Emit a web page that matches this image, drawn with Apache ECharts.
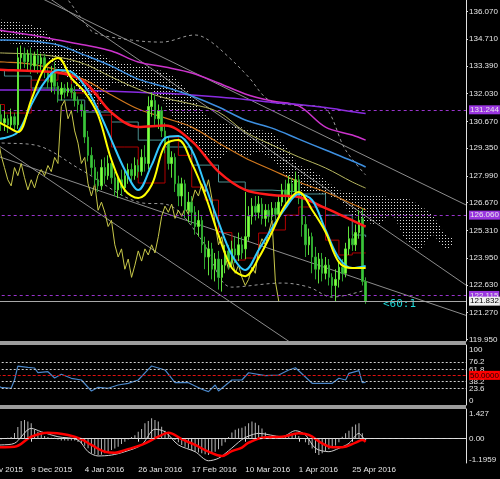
<!DOCTYPE html>
<html>
<head>
<meta charset="utf-8">
<script src="https://cdn.jsdelivr.net/npm/echarts@6/dist/echarts.min.js"></script>
<style>
  html, body { margin: 0; padding: 0; background: #000; }
  #chart { width: 500px; height: 479px; }
</style>
</head>
<body>
<div id="chart"></div>
<script>
// categories: trading days from 17 Nov 2015, weekends and 25 Dec / 1 Jan skipped
const holidays = ['2015-12-25', '2016-01-01'];
const monthNames = ['Jan', 'Feb', 'Mar', 'Apr', 'May', 'Jun', 'Jul', 'Aug', 'Sep', 'Oct', 'Nov', 'Dec'];
const dates = [];
const day = new Date(Date.UTC(2015, 10, 17));
while (dates.length < 147) {
  const wd = day.getUTCDay();
  if (wd !== 0 && wd !== 6 && !holidays.includes(day.toISOString().slice(0, 10))) {
    dates.push(day.getUTCDate() + ' ' + monthNames[day.getUTCMonth()] + ' ' + day.getUTCFullYear());
  }
  day.setUTCDate(day.getUTCDate() + 1);
}
const lastBar = 116;

// daily candles [open, close, low, high]
const ohlc = [
  [131.2,131.6,130.9,131.8],[131.6,131.4,131.1,131.9],[131.4,131.5,131.0,131.8],[131.5,131.2,130.9,131.7],
  [131.2,130.8,130.6,131.4],[130.8,130.6,130.3,131.0],[130.6,130.9,130.4,131.1],[131.0,130.6,130.2,131.5],
  [130.6,130.8,130.2,131.2],[130.8,130.5,130.1,131.0],[130.5,130.9,130.3,131.3],[130.9,130.5,130.2,131.1],
  [130.5,133.8,130.3,134.3],[133.8,134.0,133.2,134.4],[134.0,133.6,133.3,134.3],[133.6,134.0,133.2,134.2],
  [134.0,133.4,133.0,134.3],[133.4,133.9,133.1,134.1],[133.9,133.5,133.0,134.2],[133.5,133.8,133.2,134.0],
  [133.8,133.1,132.8,134.0],[133.1,132.6,132.3,133.3],[132.6,133.1,132.1,133.4],[133.1,132.4,132.0,133.6],
  [132.4,132.0,131.6,132.6],[132.0,132.3,131.7,132.6],[132.3,132.1,131.8,132.5],[132.1,132.3,131.9,132.6],
  [132.3,132.1,131.8,132.5],[132.1,131.7,131.4,132.4],[131.7,131.5,131.1,131.9],[131.5,131.2,130.9,131.7],
  [131.2,129.9,129.6,131.4],[129.9,129.0,128.7,130.2],[129.0,128.4,128.0,129.4],[128.4,127.8,127.5,128.8],
  [127.8,127.5,127.2,128.2],[127.5,128.4,127.3,128.8],[128.4,128.0,127.6,128.9],[128.0,128.6,127.8,129.0],
  [128.6,127.9,127.6,128.8],[127.9,127.3,127.0,128.2],[127.3,127.8,126.9,128.0],[127.8,127.4,127.0,128.3],
  [127.4,128.0,127.2,128.3],[128.0,128.3,127.6,128.6],[128.3,128.0,127.7,128.6],[128.0,128.5,127.8,128.9],
  [128.5,128.2,127.9,128.8],[128.2,128.9,128.0,129.3],[128.9,128.6,128.2,129.5],[128.6,131.4,128.3,131.9],
  [131.4,131.7,130.9,132.1],[131.7,130.8,130.5,132.0],[130.8,131.2,130.3,131.5],[131.2,130.2,129.9,131.4],
  [130.2,129.6,129.1,130.6],[129.6,128.6,128.3,129.9],[128.6,128.9,127.9,129.2],[128.9,127.6,127.2,129.1],
  [127.6,127.0,126.5,128.0],[127.0,127.6,126.5,127.9],[127.6,126.3,125.9,127.8],[126.3,126.7,125.7,127.2],
  [126.7,126.2,125.6,127.0],[126.2,125.5,125.1,126.5],[125.5,125.8,125.0,126.3],[125.8,124.6,124.2,126.0],
  [124.6,124.0,123.4,125.0],[124.0,124.4,123.1,124.8],[124.4,123.4,122.9,124.7],[123.4,123.9,122.8,124.2],
  [123.9,123.0,122.4,124.3],[123.0,123.6,122.3,123.9],[123.6,124.3,123.2,124.6],[124.3,123.8,123.4,124.6],
  [123.8,124.4,123.5,124.8],[124.4,124.1,123.7,125.0],[124.1,124.6,123.8,125.2],[124.6,124.2,123.9,125.0],
  [124.4,125.0,123.9,127.2],[125.0,126.0,124.8,126.5],[126.0,126.5,125.6,126.9],[126.5,126.2,125.8,127.0],
  [126.2,126.6,125.9,127.0],[126.6,125.9,125.6,126.9],[125.9,126.3,125.5,126.6],[126.3,126.0,125.7,126.6],
  [126.0,126.4,125.8,126.7],[126.4,126.1,125.8,126.7],[126.1,126.7,125.9,127.0],[126.7,127.3,126.5,127.6],
  [127.3,127.0,126.6,127.8],[127.0,127.6,126.8,128.0],[127.6,127.2,126.9,127.9],[127.2,127.8,127.0,128.2],
  [127.8,126.9,126.6,128.0],[126.9,125.6,125.0,127.1],[125.6,124.6,124.0,126.0],[124.6,125.0,124.1,125.4],
  [125.0,124.0,123.2,125.2],[124.0,123.4,122.9,124.5],[123.4,123.9,122.7,124.2],[123.9,123.2,122.8,124.2],
  [123.2,123.6,122.9,124.0],[123.6,123.0,122.6,123.9],[123.0,122.6,122.0,123.2],[122.6,122.9,121.8,123.4],
  [122.9,123.5,122.5,123.8],[123.5,123.2,122.8,123.9],[123.2,124.4,123.0,124.7],[124.4,124.9,124.1,125.5],
  [124.9,124.6,124.3,125.3],[124.6,125.2,124.3,125.6],[125.2,125.8,124.9,126.3],[125.9,122.8,122.6,126.4],
  [122.8,121.832,121.7,123.0]
];

// moving averages read every 8 bars
const idx8 = [0, 8, 16, 24, 32, 40, 48, 56, 64, 72, 80, 88, 96, 104, 112, 116];
const maRed = [133.25,133.2,133.15,133.07,132.6,131.1,130.4,130.47,129.7,128.2,127.3,127.05,126.95,126.4,125.8,125.5];
const maMagenta = [135.31,135.12,134.92,134.67,134.43,134.13,133.59,133.34,133.05,132.56,132.02,131.67,131.43,130.39,130.0,129.75];
const maBlue = [134.72,134.67,134.62,134.43,133.93,133.39,132.75,132.36,131.92,131.38,130.74,130.34,129.8,129.26,128.72,128.43];
const maOlive = [134.08,134.03,133.98,133.84,133.49,132.85,132.26,131.82,131.52,131.13,130.15,129.51,128.92,128.38,127.69,127.39];
const maOrange = [133.64,133.59,133.49,133.2,132.71,131.97,131.28,130.84,130.39,129.61,128.87,128.28,127.69,127.2,126.61,126.31];
const maViolet = [132.2,132.21,132.21,132.21,132.2,132.15,132.1,132.05,131.97,131.87,131.75,131.6,131.5,131.35,131.15,131.06];
const maTeal = [133.2,132.9,132.31,131.72,131.13,130.64,129.75,129.41,128.52,127.69,127.29,127.2,127.1,126.06,125.08,124.98];

// faster lines read every 4 bars
const idx4 = [0,4,8,12,16,20,24,28,32,36,40,44,48,52,56,60,64,68,72,76,80,84,88,92,96,100,104,108,112,116];
const maYellow = [130.9,130.8,130.49,130.15,131.72,133.3,133.79,132.8,132.11,130.98,128.77,127.29,126.9,127.54,129.51,129.75,128.62,127.05,125.08,123.46,123.06,123.95,125.23,126.56,127.2,126.31,125.23,123.75,123.46,123.46];
const maCyan = [129.9,129.8,129.85,130.15,131.48,132.6,133.2,133.1,132.41,131.23,129.75,128.28,127.29,128.52,129.85,129.95,129.26,127.54,125.72,124.1,123.36,124.34,125.43,126.41,127.1,126.8,125.33,123.95,123.46,123.56];
const stepDarkRed = [131.5,131.5,131.08,131.08,132.7,132.7,133.0,132.07,132.07,130.98,129.41,129.41,127.64,127.64,129.9,129.0,127.44,126.8,125.2,123.85,123.95,125.18,125.33,126.06,126.46,126.46,124.83,124.1,124.2,124.2];

// ichimoku cloud edges
const cloudIdx = [0,4,8,12,16,20,24,28,32,36,40,44,48,52,56,60,64,68,72,76,80,84,88,92,96,100,104,108,112,116,120,124,128,132,136,140,142];
const cloudTop = [135.7,135.66,135.66,135.56,135.41,135.16,134.4,134.33,134.18,134.03,133.69,133.54,133.39,133.3,133.1,132.71,131.97,130.98,130.64,130.49,130.34,130.25,130.1,129.51,128.52,128.28,127.79,127.3,127.15,127.05,127.05,126.9,126.9,126.56,126.06,125.08,124.93];
const cloudBot = [134.7,134.67,134.57,134.43,134.33,133.9,133.2,132.7,131.9,131.38,132.46,132.4,132.36,132.21,131.48,130.49,129.75,129.02,128.77,129.26,128.87,129.16,128.77,128.03,127.29,127.2,127.05,126.8,126.06,125.72,125.57,126.06,124.83,124.34,125.08,124.34,124.59];

// dashed envelope curves
const upperIdx = [20,25,27,32,35,46,55,65,69,75,81,87,94,103,110,116];
const upperVal = [137.5,136.89,136.64,135.51,135.02,134.67,134.57,134.92,134.67,133.84,132.85,131.72,131.48,131.38,129.26,128.03];
const lowerIdx = [0,7,17,31,48,57,67,76,91,99,106,116];
const lowerVal = [129.7,129.61,129.51,128.28,126.7,126.56,124.83,122.52,122.72,122.52,122.03,122.38];

// trend lines [[bar, price], [bar, price]]
const trendLines = [
  [[0, 138.25], [146, 126.56]],
  [[0, 139.15], [146, 122.62]],
  [[0, 130.17], [146, 113.98]],
  [[0, 129.29], [146, 121.13]]
];

const priceTicks = [119.95,121.27,122.63,123.95,125.31,126.67,127.99,129.35,130.67,132.03,133.39,134.71,136.07];
const levelLines = [131.244, 126.06, 122.115];
const bidPrice = 121.832;

// RSI panel
const rsiIdx = [0,3,7,10,11,12,15,17,18,21,23,25,28,31,34,36,39,42,45,48,51,52,56,59,63,67,69,71,72,76,79,81,86,90,93,95,100,103,106,108,110,111,114,115,116];
const rsiVal = [40,35,26.4,24.5,40.8,68.4,65.9,64.5,55.2,57.2,44.8,52.1,44.2,40.8,19.1,26.4,24.5,31,34.3,40.8,61.9,68.4,60.6,35.5,35.5,22.5,17.8,31,19.1,40.8,40.8,55.2,49.3,50.7,60.6,65.1,34.3,34.3,34.3,44.2,40.8,54,59.2,35.5,36];
const rsiLevels = [23.6, 38.2, 61.8, 76.2];
const rsiTicks = [0, 23.6, 38.2, 61.8, 76.2, 100];

// oscillator panel
const oscHist = [
  -0.3,-0.35,-0.4,-0.35,-0.3,-0.2,-0.1,
  -0.05,0,0.05,0.1,0.32,0.66,1.0,1.05,0.96,0.87,
  0.5,0.39,0.25,0.15,0.1,0.05,0.05,-0.05,-0.1,-0.1,
  -0.12,-0.1,-0.1,-0.18,-0.26,-0.4,-0.54,-0.82,-0.88,-0.92,
  -0.9,-0.82,-0.75,-0.64,-0.55,-0.45,-0.3,-0.17,-0.05,0.1,
  0.2,0.39,0.55,0.87,1.0,1.15,1.05,0.96,0.67,0.45,
  0.3,0.05,-0.07,-0.2,-0.35,-0.45,-0.54,-0.65,-0.73,-0.78,
  -0.82,-0.88,-0.92,-0.85,-0.73,-0.6,-0.4,-0.2,0.1,0.35,
  0.5,0.58,0.62,0.7,0.87,0.96,0.9,0.75,0.58,0.35,
  0.15,0.11,0.11,0.11,0.12,0.15,0.21,0.25,0.3,0.15,
  0.02,-0.2,-0.35,-0.55,-0.8,-0.92,-0.82,-0.7,-0.6,-0.45,
  -0.38,-0.2,0.11,0.3,0.45,0.67,0.8,0.87,0.3,-0.07
];
const oscRedIdx = [0,7,11,16,21,27,31,34,38,41,44,49,54,57,61,65,69,73,76,79,81,86,91,96,99,103,106,109,113,115,116];
const oscRedVal = [-0.5,-0.48,-0.45,0.11,0.34,0.21,-0.03,-0.35,-0.73,-0.79,-0.64,-0.35,0.11,0.34,-0.03,-0.35,-0.73,-0.97,-0.7,-0.5,-0.22,0.08,0.11,0.3,0.21,-0.26,-0.48,-0.48,-0.22,-0.07,-0.17];
const oscWhiteIdx = [0,7,11,16,19,24,30,33,36,40,44,49,53,56,60,65,69,72,75,79,81,84,91,95,98,101,105,108,111,114,115,116];
const oscWhiteVal = [-0.4,-0.35,-0.26,0.58,0.39,0.11,-0.07,-0.73,-0.97,-0.92,-0.73,-0.35,0.53,0.39,-0.35,-0.73,-1.24,-1.1,-0.68,-0.05,0.15,0.3,0.11,0.45,0.21,-0.54,-0.73,-0.54,-0.26,0.3,0.11,-0.07];
const oscTicks = [-1.1959, 0, 1.427];

const zip = (xs, ys) => xs.map((x, k) => [x, ys[k]]);
const closes = ohlc.map(r => r[1]);
const chikou = closes.slice(26).map((v, k) => [k, v]);

// dotted fill for the cloud
const dotCanvas = document.createElement('canvas');
dotCanvas.width = 3; dotCanvas.height = 3;
const dctx = dotCanvas.getContext('2d');
dctx.fillStyle = '#dcdcdc';
dctx.fillRect(1, 1, 1, 1);
const dotPattern = { image: dotCanvas, repeat: 'repeat' };

const FONT = 'Liberation Sans';
const txt = { color: '#e6e6e6', fontSize: 8, fontFamily: FONT };
const tag = (bg, fg) => ({ show: true, position: 'end', distance: 3, color: fg, backgroundColor: bg, padding: [1, 1, 0, 1], fontSize: 8, fontFamily: FONT });

function maLine(idx, vals, color, width, extra) {
  return Object.assign({
    type: 'line', xAxisIndex: 0, yAxisIndex: 0,
    data: zip(idx, vals), smooth: 0.35, symbol: 'none', silent: true,
    lineStyle: { color: color, width: width }, z: 3
  }, extra || {});
}

const series = [
  {
    type: 'custom', xAxisIndex: 0, yAxisIndex: 0, silent: true, z: 1, clip: true,
    data: cloudIdx.map((d, k) => [d, cloudTop[k], cloudBot[k]]),
    renderItem: function (params, api) {
      if (params.dataIndex !== 0) return null;
      const top = cloudIdx.map((d, k) => api.coord([d, cloudTop[k]]));
      const bot = cloudIdx.map((d, k) => api.coord([d, cloudBot[k]])).reverse();
      return { type: 'polygon', shape: { points: top.concat(bot), smooth: 0.2 }, style: { fill: dotPattern } };
    }
  }
];

trendLines.forEach(function (tl) {
  series.push({
    type: 'line', xAxisIndex: 0, yAxisIndex: 0, data: tl, symbol: 'none', silent: true,
    lineStyle: { color: '#8c8c8c', width: 1 }, z: 2
  });
});

series.push(
  maLine(upperIdx, upperVal, '#9a9a9a', 1, { lineStyle: { color: '#9a9a9a', width: 1, type: [3, 3] }, z: 2 }),
  maLine(lowerIdx, lowerVal, '#9a9a9a', 1, { lineStyle: { color: '#9a9a9a', width: 1, type: [3, 3] }, z: 2 }),
  maLine(idx8, maMagenta, '#cc33cc', 1.5),
  maLine(idx8, maViolet, '#8a2be2', 1.5),
  maLine(idx8, maBlue, '#3d8fe0', 1.5),
  maLine(idx8, maOlive, '#b8b860', 1),
  maLine(idx8, maOrange, '#d2781e', 1.2),
  maLine(idx8, maTeal, '#4a8f8f', 1, { smooth: false, step: 'end' }),
  maLine(idx4, stepDarkRed, '#b00000', 1, { smooth: false, step: 'end' }),
  {
    type: 'line', xAxisIndex: 0, yAxisIndex: 0, data: chikou, symbol: 'none', silent: true,
    lineStyle: { color: '#c8c84a', width: 1 }, z: 3
  },
  {
    type: 'candlestick', xAxisIndex: 0, yAxisIndex: 0, data: ohlc, barWidth: 2, z: 4,
    itemStyle: { color: '#86ff3c', color0: '#3cc43c', borderColor: '#5ee03a', borderColor0: '#2fa82f', borderWidth: 1 },
    markLine: {
      silent: true, symbol: 'none', animation: false,
      data: levelLines.map(v => ({
        yAxis: v,
        lineStyle: { color: '#9933cc', type: [3, 3], width: 1 },
        label: Object.assign(tag('#9a35e0', '#e8e8e8'), { formatter: v.toFixed(3) })
      })).concat([{
        yAxis: bidPrice,
        lineStyle: { color: '#a8a8a8', type: 'solid', width: 1 },
        label: Object.assign(tag('#f0f0f0', '#000'), { formatter: bidPrice.toFixed(3) })
      }])
    }
  },
  maLine(idx8, maRed, '#ff1a1a', 2.5, { z: 5 }),
  maLine(idx4, maCyan, '#33c8ff', 2, { z: 5 }),
  maLine(idx4, maYellow, '#ffff00', 2, { z: 6 }),
  {
    type: 'line', xAxisIndex: 1, yAxisIndex: 1, data: zip(rsiIdx, rsiVal), symbol: 'none', silent: true,
    lineStyle: { color: '#4a86c8', width: 1.2 },
    markLine: {
      silent: true, symbol: 'none', animation: false,
      data: rsiLevels.map(v => ({ yAxis: v, lineStyle: { color: '#d0d0d0', type: [2, 2], width: 1 }, label: { show: false } }))
        .concat([{
          yAxis: 50, lineStyle: { color: '#e01010', type: [3, 2], width: 1 },
          label: Object.assign(tag('#ff0000', '#200000'), { formatter: '50.0000' })
        }])
    }
  },
  {
    type: 'bar', xAxisIndex: 2, yAxisIndex: 2, data: oscHist, barWidth: 1, silent: true,
    itemStyle: { color: '#b8b8b8' },
    markLine: {
      silent: true, symbol: 'none', animation: false,
      data: [{ yAxis: 0, lineStyle: { color: '#d8d8d8', type: [3, 3], width: 1 }, label: { show: false } }]
    }
  },
  {
    type: 'line', xAxisIndex: 2, yAxisIndex: 2, data: zip(oscWhiteIdx, oscWhiteVal), smooth: 0.3, symbol: 'none', silent: true,
    lineStyle: { color: '#d0d0d0', width: 1 }, z: 3
  },
  {
    type: 'line', xAxisIndex: 2, yAxisIndex: 2, data: zip(oscRedIdx, oscRedVal), smooth: 0.4, symbol: 'none', silent: true,
    lineStyle: { color: '#ff0000', width: 2.5 }, z: 4
  }
);

const gridBox = { left: -22.3, right: 34, outerBoundsMode: 'none' };
const hiddenX = i => ({
  type: 'category', gridIndex: i, data: dates, boundaryGap: false,
  axisLine: { show: false }, axisTick: { show: false }, axisLabel: { show: false }, splitLine: { show: false }
});
const showDate = i => i % 16 === 0 && i <= lastBar;

const chart = echarts.init(document.getElementById('chart'), null, { renderer: 'canvas' });
chart.setOption({
  backgroundColor: '#000',
  animation: false,
  grid: [
    Object.assign({ top: 0, height: 341 }, gridBox),
    Object.assign({ top: 345, height: 60 }, gridBox),
    Object.assign({ top: 409, height: 54 }, gridBox)
  ],
  xAxis: [
    hiddenX(0),
    hiddenX(1),
    {
      type: 'category', gridIndex: 2, data: dates, boundaryGap: false,
      axisLine: { show: true, lineStyle: { color: '#e0e0e0', width: 1 } },
      axisTick: { show: true, interval: showDate, length: 3, lineStyle: { color: '#e0e0e0' } },
      axisLabel: Object.assign({ interval: showDate, align: 'left', margin: 3 }, txt),
      splitLine: { show: false }
    }
  ],
  yAxis: [
    {
      type: 'value', gridIndex: 0, position: 'right', min: 119.87, max: 136.64,
      axisLine: { show: true, lineStyle: { color: '#e0e0e0' } },
      axisTick: { show: true, length: 2, customValues: priceTicks, lineStyle: { color: '#e0e0e0' } },
      axisLabel: Object.assign({ customValues: priceTicks, formatter: v => v.toFixed(3), margin: 3 }, txt),
      splitLine: { show: false }
    },
    {
      type: 'value', gridIndex: 1, position: 'right', min: -8.5, max: 109.9,
      axisLine: { show: true, lineStyle: { color: '#e0e0e0' } },
      axisTick: { show: false },
      axisLabel: Object.assign({ customValues: rsiTicks, formatter: v => String(v), margin: 3 }, txt),
      splitLine: { show: false }
    },
    {
      type: 'value', gridIndex: 2, position: 'right', min: -1.366, max: 1.669,
      axisLine: { show: true, lineStyle: { color: '#e0e0e0' } },
      axisTick: { show: false },
      axisLabel: Object.assign({ customValues: oscTicks, formatter: v => (v === 0 ? '0.00' : String(v)), margin: 3 }, txt),
      splitLine: { show: false }
    }
  ],
  graphic: [
    { type: 'rect', shape: { x: 0, y: 341, width: 466, height: 4 }, style: { fill: '#9c9c9c' }, silent: true },
    { type: 'rect', shape: { x: 0, y: 405, width: 466, height: 4 }, style: { fill: '#9c9c9c' }, silent: true },
    { type: 'text', left: 383, top: 299, style: { text: '<60:1', fill: '#1fd8d8', font: '11px "DejaVu Sans Mono"' }, silent: true }
  ],
  series: series
});
</script>
</body>
</html>
